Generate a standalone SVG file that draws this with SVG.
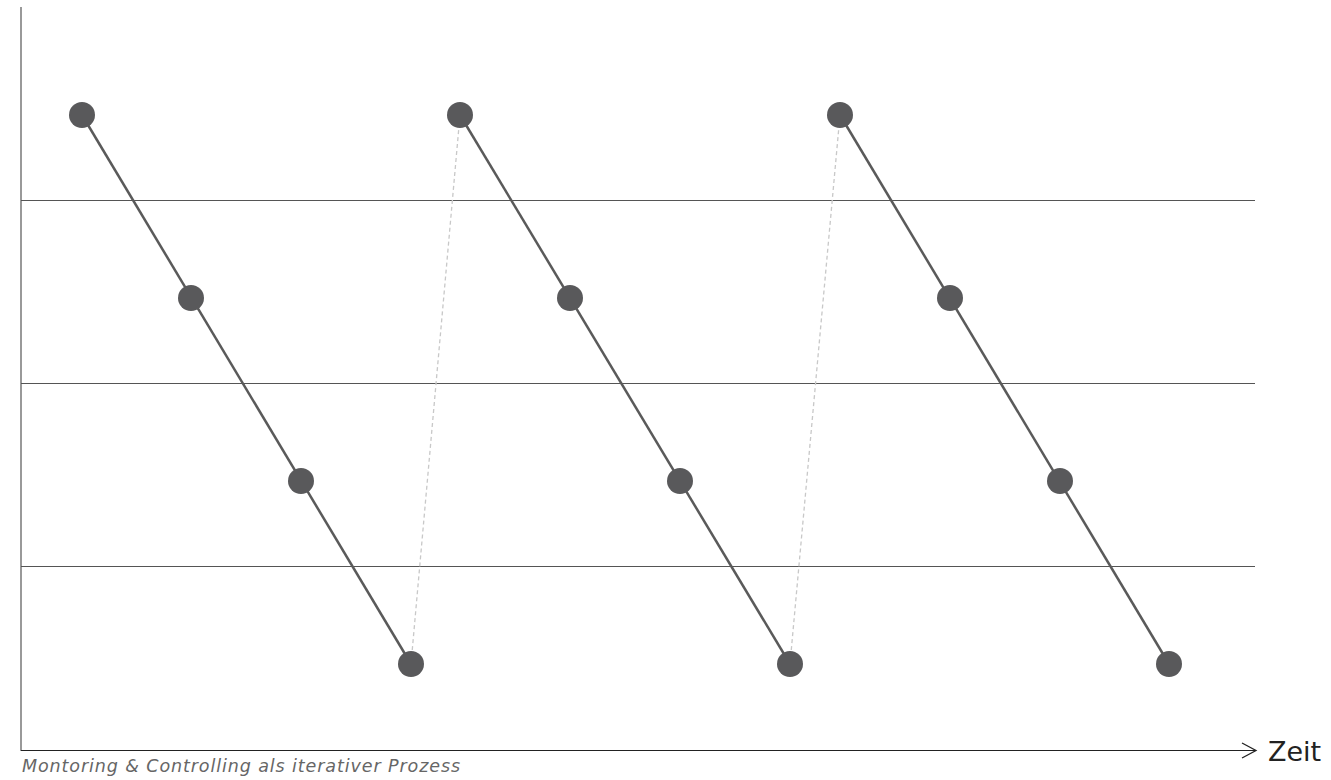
<svg xmlns="http://www.w3.org/2000/svg" width="1331" height="780" viewBox="0 0 1331 780">
<style>
.grid{stroke:#555;stroke-width:1;fill:none}
.axis{stroke:#777;stroke-width:1.5;fill:none}
.seg{stroke:#5a5a5a;stroke-width:2.5;fill:none}
.dash{stroke:#c8c8c8;stroke-width:1.3;stroke-dasharray:4 3;fill:none}
.node{fill:#59595b}
</style>
<rect width="1331" height="780" fill="#fff"/>
<g id="axes">
<line class="axis" x1="21" y1="7" x2="21" y2="751"/>
<line x1="21" y1="750.5" x2="1255" y2="750.5" stroke="#222" stroke-width="1"/>
<polyline points="1242,743 1256,750.5 1242,758" fill="none" stroke="#222" stroke-width="1.3"/>
<text x="1268" y="761" font-family="'DejaVu Sans', 'Liberation Sans', sans-serif" font-size="27" fill="#222">Zeit</text>
<text x="22" y="772" font-family="'DejaVu Sans', 'Liberation Sans', sans-serif" font-style="italic" font-size="17.5" letter-spacing="0.9" fill="#666">Montoring &amp; Controlling als iterativer Prozess</text>
</g>
<g id="grid">
<line class="grid" x1="21" y1="200.5" x2="1255" y2="200.5"/>
<line class="grid" x1="21" y1="383.5" x2="1255" y2="383.5"/>
<line class="grid" x1="21" y1="566.5" x2="1255" y2="566.5"/>
</g>
<g id="connectors">
<line class="seg" x1="82" y1="115" x2="411" y2="664"/>
<line class="seg" x1="460" y1="115" x2="790" y2="664"/>
<line class="seg" x1="840" y1="115" x2="1169" y2="664"/>
<line class="dash" x1="411" y1="664" x2="460" y2="115"/>
<line class="dash" x1="790" y1="664" x2="840" y2="115"/>
</g>
<g id="n1"><circle class="node" cx="82" cy="115" r="13"/></g>
<g id="n2"><circle class="node" cx="191" cy="298" r="13"/></g>
<g id="n3"><circle class="node" cx="301" cy="481" r="13"/></g>
<g id="n4"><circle class="node" cx="411" cy="664" r="13"/></g>
<g id="n5"><circle class="node" cx="460" cy="115" r="13"/></g>
<g id="n6"><circle class="node" cx="570" cy="298" r="13"/></g>
<g id="n7"><circle class="node" cx="680" cy="481" r="13"/></g>
<g id="n8"><circle class="node" cx="790" cy="664" r="13"/></g>
<g id="n9"><circle class="node" cx="840" cy="115" r="13"/></g>
<g id="n10"><circle class="node" cx="950" cy="298" r="13"/></g>
<g id="n11"><circle class="node" cx="1060" cy="481" r="13"/></g>
<g id="n12"><circle class="node" cx="1169" cy="664" r="13"/></g>
</svg>
